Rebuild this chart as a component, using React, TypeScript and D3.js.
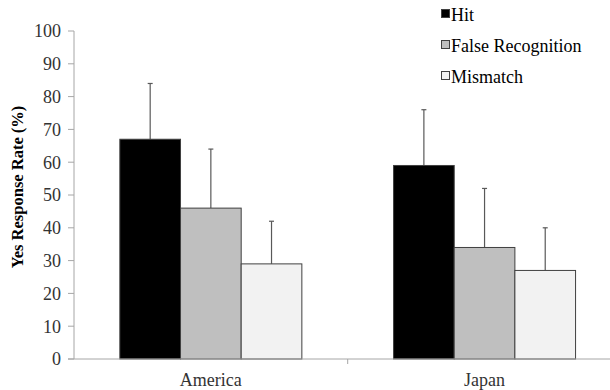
import React from "react";
import * as d3 from "d3";

const categories = ["America", "Japan"];
const series = ["Hit", "False Recognition", "Mismatch"];
const hitValues = [67, 59];
const falseRecValues = [46, 34];
const mismatchValues = [29, 27];
const hitErr = [17, 17];
const falseRecErr = [18, 18];
const mismatchErr = [13, 13];
const yTicks = [0, 10, 20, 30, 40, 50, 60, 70, 80, 90, 100];
const colors = ["#000000", "#bfbfbf", "#f2f2f2"];

const values = [hitValues, falseRecValues, mismatchValues];
const errs = [hitErr, falseRecErr, mismatchErr];

export default function App() {
  const W = 610, H = 390;
  const left = 74, top = 31, bottom = 359;
  const bandW = 273.7;
  const x = d3.scaleBand<string>().domain(categories).range([left, left + bandW * 2]).padding(0);
  const y = d3.scaleLinear().domain([0, 100]).range([bottom, top]);
  const groupW = x.bandwidth() * 0.665;
  const inner = d3.scaleBand<string>().domain(series).range([0, groupW]).padding(0);
  const fontStyle = { fontFamily: "'Liberation Serif', 'Times New Roman', serif" };
  const axisColor = "#a6a6a6";
  const legendY = [15, 46, 77];

  return (
    <svg width={W} height={H} style={{ position: "absolute", left: 0, top: 0, background: "#fff", ...fontStyle }}>
      {/* y axis */}
      <line x1={left} x2={left} y1={y(100)} y2={bottom} stroke={axisColor} strokeWidth={1} />
      {yTicks.map((t) => (
        <g key={t}>
          <line x1={left - 6} x2={left} y1={y(t)} y2={y(t)} stroke={axisColor} />
          <text x={61} y={y(t)} dy="0.35em" textAnchor="end" style={{ ...fontStyle, fontSize: 18 }} fill="#333">
            {t}
          </text>
        </g>
      ))}
      <text
        transform={`translate(23,${(top + bottom) / 2 - 8}) rotate(-90)`}
        textAnchor="middle"
        style={{ ...fontStyle, fontSize: 16.5, fontWeight: "bold" }}
        fill="#000"
      >
        Yes Response Rate (%)
      </text>

      {/* bars */}
      {categories.map((c, ci) => {
        const gx = (x(c) as number) + (x.bandwidth() - groupW) / 2;
        return (
          <g key={c}>
            {series.map((s, si) => {
              const bx = gx + (inner(s) as number);
              const bw = inner.bandwidth();
              const v = values[si][ci];
              const e = errs[si][ci];
              const cx = bx + bw / 2;
              return (
                <g key={s}>
                  <line x1={cx} x2={cx} y1={y(v)} y2={y(v + e)} stroke="#595959" strokeWidth={1.2} />
                  <line x1={cx - 2.5} x2={cx + 2.5} y1={y(v + e)} y2={y(v + e)} stroke="#595959" strokeWidth={1.2} />
                  <rect x={bx} y={y(v)} width={bw} height={bottom - y(v)} fill={colors[si]} stroke="#404040" strokeWidth={1} />
                </g>
              );
            })}
          </g>
        );
      })}

      {/* x axis */}
      <line x1={left - 6} x2={W} y1={bottom} y2={bottom} stroke={axisColor} strokeWidth={1} />
      {categories.map((c, i) => (
        <g key={c}>
          {i > 0 && (
            <line x1={x(c) as number} x2={x(c) as number} y1={bottom} y2={bottom + 5} stroke={axisColor} />
          )}
          <text
            x={(x(c) as number) + x.bandwidth() / 2}
            y={386}
            textAnchor="middle"
            style={{ ...fontStyle, fontSize: 18 }}
            fill="#333"
          >
            {c}
          </text>
        </g>
      ))}
      {/* legend */}
      {series.map((s, i) => (
        <g key={s}>
          <rect x={441.5} y={legendY[i] - 5.5} width={8} height={8} fill={colors[i]} stroke="#404040" strokeWidth={1} />
          <text x={451} y={legendY[i]} dy="0.35em" style={{ ...fontStyle, fontSize: 18 }} fill="#000">
            {s}
          </text>
        </g>
      ))}
    </svg>
  );
}
